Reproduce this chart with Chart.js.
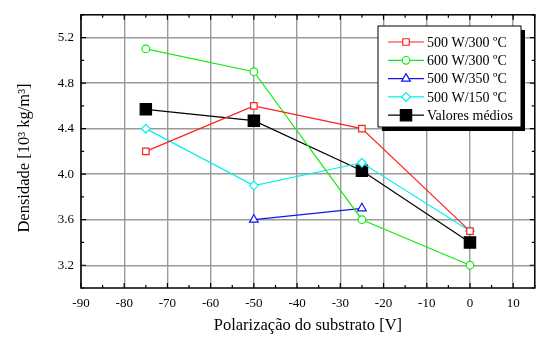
<!DOCTYPE html>
<html>
<head>
<meta charset="utf-8">
<script src="https://cdn.jsdelivr.net/npm/chart.js@4.4.0/dist/chart.umd.min.js"></script>
<style>
  html, body { margin: 0; padding: 0; background: #fff; overflow: hidden; }
  /* a little wider than the window: Chart.js keeps a few px free at the right */
  #wrap { width: 544px; height: 338px; position: relative; }
  canvas { display: block; }
</style>
</head>
<body>
<div id="wrap"><canvas id="chart"></canvas></div>
<script>
// --- data ---
const bias = [-75, -50, -25, 0];
const s500_300 = [4.2, 4.6, 4.4, 3.5];
const s600_300 = [5.1, 4.9, 3.6, 3.2];
const s500_350 = [null, 3.6, 3.7, null];
const s500_150 = [4.4, 3.9, 4.1, 3.5];
const media = [4.57, 4.47, 4.03, 3.4];

const xTicks = [-90, -80, -70, -60, -50, -40, -30, -20, -10, 0, 10];
const yTicks = [3.2, 3.6, 4.0, 4.4, 4.8, 5.2];

const FONT = '"Liberation Serif", "Times New Roman", serif';

function pts(vals) {
    return bias.map((x, i) => ({ x: x, y: vals[i] })).filter(p => p.y !== null);
}

// frame, inward ticks, y title and boxed legend with shadow
const framePlugin = {
    id: 'frame',
    afterDraw(chart) {
        const ctx = chart.ctx;
        const a = chart.chartArea;
        const xs = chart.scales.x, ys = chart.scales.y;
        ctx.save();
        ctx.strokeStyle = '#000';
        ctx.lineWidth = 1.5;
        ctx.strokeRect(a.left, a.top, a.right - a.left, a.bottom - a.top);

        ctx.lineWidth = 1.2;
        ctx.beginPath();
        for (let v = -90; v <= 15; v += 5) {
            const px = xs.getPixelForValue(v);
            const len = v % 10 === 0 ? 5 : 3;
            ctx.moveTo(px, a.bottom); ctx.lineTo(px, a.bottom - len);
            ctx.moveTo(px, a.top); ctx.lineTo(px, a.top + len);
        }
        for (let v = 3.0; v <= 5.41; v += 0.2) {
            const py = ys.getPixelForValue(v);
            const len = Math.round(v * 10) % 4 === 0 ? 5 : 3;
            ctx.moveTo(a.left, py); ctx.lineTo(a.left + len, py);
            ctx.moveTo(a.right, py); ctx.lineTo(a.right - len, py);
        }
        ctx.stroke();

        // y axis title
        ctx.save();
        ctx.translate(25, 158);
        ctx.rotate(-Math.PI / 2);
        ctx.fillStyle = '#000';
        ctx.font = '16.5px ' + FONT;
        ctx.textAlign = 'center';
        ctx.textBaseline = 'middle';
        ctx.fillText('Densidade [10³ kg/m³]', 0, 0);
        ctx.restore();

        // legend
        const bx = 378, by = 26, bw = 143, bh = 101;
        ctx.fillStyle = '#000';
        ctx.fillRect(bx + 4, by + 4, bw, bh);
        ctx.fillStyle = '#fff';
        ctx.fillRect(bx, by, bw, bh);
        ctx.lineWidth = 1;
        ctx.strokeStyle = '#000';
        ctx.strokeRect(bx, by, bw, bh);

        ctx.font = '14px ' + FONT;
        ctx.textBaseline = 'middle';
        chart.data.datasets.forEach((ds, i) => {
            const y = by + 16 + i * 18.3;
            ctx.strokeStyle = ds.borderColor;
            ctx.lineWidth = 1.2;
            ctx.beginPath();
            ctx.moveTo(388, y); ctx.lineTo(424, y);
            ctx.stroke();
            ctx.fillStyle = ds.pointBackgroundColor;
            ctx.strokeStyle = ds.pointBorderColor;
            Chart.helpers.drawPoint(ctx, {
                pointStyle: ds.pointStyle,
                radius: ds.pointRadius,
                borderWidth: 1.2
            }, 406, y);
            ctx.fillStyle = '#000';
            ctx.fillText(ds.label, 427, y + 1);
        });
        ctx.restore();
    }
};

function series(label, vals, color, style, r, fill) {
    return {
        label: label,
        data: pts(vals),
        showLine: true,
        borderColor: color,
        borderWidth: 1.2,
        pointStyle: style,
        pointRadius: r,
        pointHoverRadius: r,
        pointBorderColor: color,
        pointBackgroundColor: fill,
        pointBorderWidth: 1.2,
        tension: 0
    };
}

new Chart(document.getElementById('chart'), {
    type: 'scatter',
    data: {
        datasets: [
            series('500 W/300 ºC', s500_300, '#ff2020', 'rect', 4.6, '#fff'),
            series('600 W/300 ºC', s600_300, '#10ee10', 'circle', 3.8, '#fff'),
            series('500 W/350 ºC', s500_350, '#1515ee', 'triangle', 5, '#fff'),
            series('500 W/150 ºC', s500_150, '#00f0f0', 'rectRot', 4.4, '#fff'),
            series('Valores médios', media, '#000', 'rect', 8, '#000')
        ]
    },
    options: {
        responsive: true,
        maintainAspectRatio: false,
        animation: false,
        layout: { padding: { top: 14, right: 2, left: 0, bottom: 0 } },
        plugins: {
            legend: { display: false },
            tooltip: { enabled: false }
        },
        scales: {
            x: {
                type: 'linear',
                min: -90,
                max: 15,
                afterBuildTicks: s => { s.ticks = xTicks.map(v => ({ value: v })); },
                afterFit: s => { s.height = 50; },
                grid: { color: '#9a9a9a', lineWidth: 1.4, drawTicks: false },
                border: { display: false },
                ticks: {
                    color: '#000',
                    font: { family: FONT, size: 13 },
                    padding: 8,
                    maxRotation: 0,
                    callback: v => String(v)
                },
                title: {
                    display: true,
                    text: 'Polarização do substrato [V]',
                    color: '#000',
                    font: { family: FONT, size: 16.5 },
                    padding: { top: 4, bottom: 2 }
                }
            },
            y: {
                min: 3.0,
                max: 5.4,
                afterBuildTicks: s => { s.ticks = yTicks.map(v => ({ value: v })); },
                afterFit: s => { s.width = 81; },
                grid: { color: '#9a9a9a', lineWidth: 1.4, drawTicks: false },
                border: { display: false },
                ticks: {
                    color: '#000',
                    font: { family: FONT, size: 13 },
                    padding: 7,
                    callback: v => v.toFixed(1)
                }
            }
        }
    },
    plugins: [framePlugin]
});
</script>
</body>
</html>
